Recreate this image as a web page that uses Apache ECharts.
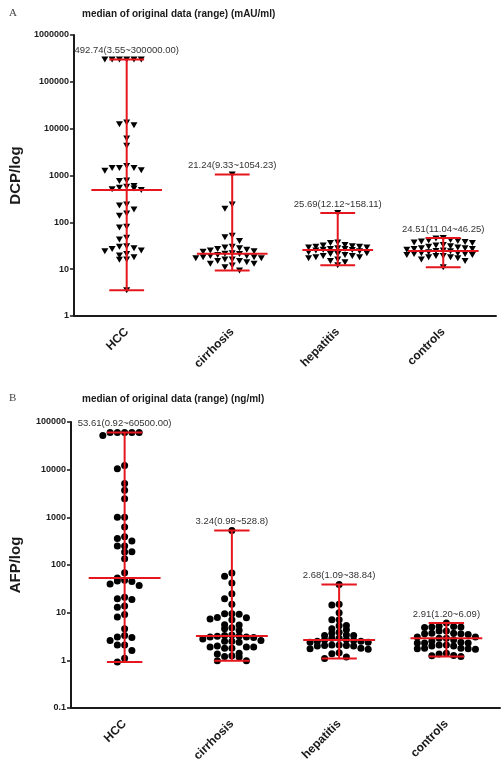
<!DOCTYPE html>
<html>
<head>
<meta charset="utf-8">
<script src="https://cdn.jsdelivr.net/npm/echarts@6/dist/echarts.min.js"></script>
<style>
  html, body { margin: 0; padding: 0; background: #fff; }
  #chart { width: 504px; height: 765px; }
</style>
</head>
<body>
<div id="chart"></div>
<script>
const groups = ['HCC', 'cirrhosis', 'hepatitis', 'controls'];

// panel A: DCP (mAU/ml)
const dcpHCC = [300000, 300000, 300000, 300000, 300000, 300000, 13500, 11800, 12500, 6200, 4300,
  1600, 1450, 1300, 1260, 1450, 1450, 780, 760, 600, 545, 510, 492.74, 525, 575,
  240, 230, 187, 155, 138, 80, 78, 47, 43, 30, 27, 25, 24, 28, 31, 21, 19.5, 16, 15.8, 18, 3.55];
const dcpCirrhosis = [1054.23, 240, 195, 52, 48, 40, 30, 29, 28, 27, 26, 25, 24, 23.5, 22,
  21.24, 21, 20, 19, 19, 18, 18, 17, 17, 16, 16, 15, 15, 14, 13, 13, 12, 11, 9.33];
const dcpHepatitis = [158.11, 37, 36, 33, 32, 31, 30, 30, 29, 29, 28, 27, 27, 26, 25.69, 25, 24,
  23, 22, 21, 21, 20, 19, 19, 18, 18, 17, 16, 15, 14, 12.12];
const dcpControls = [46.25, 45, 42, 41, 40, 39, 38, 37, 36, 33, 32, 31, 30, 29, 28, 28, 27, 27, 26, 25,
  24.51, 24, 23, 22, 22, 21, 21, 20, 20, 19, 19, 18, 18, 17, 16, 15, 11.04];
const dcpMedian = [492.74, 21.24, 25.69, 24.51];
const dcpMin = [3.55, 9.33, 12.12, 11.04];
const dcpMax = [300000, 1054.23, 158.11, 46.25];
const dcpLabels = ['492.74(3.55~300000.00)', '21.24(9.33~1054.23)', '25.69(12.12~158.11)', '24.51(11.04~46.25)'];

// panel B: AFP (ng/ml)
const afpHCC = [60500, 60500, 60500, 60500, 60500, 52000, 12300, 10500, 5100, 3700, 2450, 1000, 1000,
  630, 390, 360, 320, 250, 250, 190, 187, 135, 69, 53.61, 46, 45, 48, 40, 37, 21, 19.7, 19,
  13.8, 13, 9.2, 8.1, 4.6, 3.3, 3.1, 3.0, 2.6, 2.1, 2.1, 1.6, 1.1, 0.92];
const afpCirrhosis = [528.8, 68, 58, 42, 25, 19.6, 15, 9.5, 9.5, 9.3, 7.9, 7.1, 7.8, 7.4, 5.6, 5.5,
  4.8, 4.3, 4.6, 3.4, 3.24, 3.1, 2.8, 3.0, 3.2, 3.3, 3.1, 2.6, 2.4, 2.5, 2.5, 1.9, 1.9, 1.8, 2.0,
  1.9, 1.8, 1.4, 1.35, 1.2, 1.25, 1.17, 0.98, 0.98];
const afpHepatitis = [38.84, 15, 14.5, 10, 7.1, 7.1, 5.4, 5.3, 4.6, 4.4, 3.9, 3.7, 3.3, 3.3, 3.4,
  2.9, 2.9, 2.68, 2.7, 2.6, 2.5, 2.5, 2.4, 2.4, 2.1, 2.05, 2.0, 2.1, 2.0, 2.05, 1.8, 1.75, 1.7,
  1.45, 1.38, 1.17, 1.09];
const afpControls = [6.09, 5.0, 4.9, 5.1, 5.0, 5.2, 4.1, 4.1, 3.7, 3.6, 3.6, 3.5, 3.7, 3.1, 3.1,
  2.91, 2.9, 2.7, 2.5, 2.4, 2.3, 2.3, 2.3, 2.1, 2.1, 2.0, 2.0, 1.8, 1.75, 1.75, 1.7, 1.8, 1.4,
  1.35, 1.27, 1.25, 1.2];
const afpMedian = [53.61, 3.24, 2.68, 2.91];
const afpMin = [0.92, 0.98, 1.09, 1.20];
const afpMax = [60500, 528.8, 38.84, 6.09];
const afpLabels = ['53.61(0.92~60500.00)', '3.24(0.98~528.8)', '2.68(1.09~38.84)', '2.91(1.20~6.09)'];

const RED = '#e5161d';
const gridA = { left: 73, top: 35, width: 423, height: 281 };
const gridB = { left: 69, top: 422, width: 431, height: 286 };

// dot plot layout: points falling in the same pixel band form a row, spread out from the centre
function swarm(lists, grid, rowH) {
  const pxDecade = grid.height / 6;
  const band = grid.width / 4;
  const step = 7.3;
  const out = [];
  lists.forEach((vals, gi) => {
    const sorted = vals.slice().sort((a, b) => b - a);
    let row = [];
    const flush = () => {
      // centre-out order: 0, -1, +1, -2, +2 ...
      row.forEach((v, k) => {
        const col = k === 0 ? 0 : (k % 2 ? -Math.ceil(k / 2) : Math.ceil(k / 2));
        out.push([gi + col * step / band, v]);
      });
      row = [];
    };
    let y0 = null;
    sorted.forEach(v => {
      const y = Math.log10(v) * pxDecade;
      if (y0 === null || y0 - y >= rowH) { if (row.length) flush(); y0 = y; }
      row.push(v);
    });
    if (row.length) flush();
  });
  return out;
}

function rangeSeries(xi, yi, med, mn, mx, labels) {
  return {
    type: 'custom',
    xAxisIndex: xi,
    yAxisIndex: yi,
    z: 5,
    silent: true,
    data: med.map((m, i) => [i, m, mn[i], mx[i]]),
    renderItem: (params, api) => {
      const i = api.value(0);
      const m = api.value(1);
      const band = api.coord([i + 0.5, m])[0] - api.coord([i - 0.5, m])[0];
      const pm = api.coord([i, m]);
      const pl = api.coord([i, api.value(2)]);
      const ph = api.coord([i, api.value(3)]);
      const wm = band * 0.335, wc = band * 0.165;
      const style = { stroke: RED, lineWidth: 2 };
      return {
        type: 'group',
        children: [
          { type: 'line', shape: { x1: pm[0], y1: ph[1], x2: pm[0], y2: pl[1] }, style },
          { type: 'line', shape: { x1: pm[0] - wm, y1: pm[1], x2: pm[0] + wm, y2: pm[1] }, style },
          { type: 'line', shape: { x1: pm[0] - wc, y1: ph[1], x2: pm[0] + wc, y2: ph[1] }, style },
          { type: 'line', shape: { x1: pm[0] - wc, y1: pl[1], x2: pm[0] + wc, y2: pl[1] }, style },
          {
            type: 'text', x: pm[0], y: ph[1] - 4,
            style: { text: labels[i], fill: '#333', font: '9.5px "Liberation Sans", Arial, sans-serif', align: 'center', verticalAlign: 'bottom' }
          }
        ]
      };
    }
  };
}

const fmt = v => String(Number(v.toPrecision(6)));

function catAxis(gi) {
  return {
    type: 'category', gridIndex: gi, data: groups, boundaryGap: true,
    axisLine: { onZero: false, lineStyle: { color: '#1a1a1a', width: 2 } },
    axisTick: { alignWithLabel: true, length: 5, lineStyle: { color: '#1a1a1a', width: 1.5 } },
    axisLabel: { interval: 0, rotate: 45, margin: 14, color: '#1a1a1a', fontWeight: 'bold', fontSize: 12, fontFamily: '"Liberation Sans", Arial, sans-serif' },
    splitLine: { show: false }
  };
}
function hiddenX(gi) {
  return { type: 'value', gridIndex: gi, min: -0.5, max: 3.5, show: false };
}
function logAxis(gi, min, max, name) {
  return {
    type: 'log', logBase: 10, gridIndex: gi, min, max, splitNumber: 6,
    name, nameLocation: 'middle', nameGap: 48,
    nameTextStyle: { fontWeight: 'bold', fontSize: 15, color: '#1a1a1a', fontFamily: '"Liberation Sans", Arial, sans-serif' },
    axisLine: { show: true, onZero: false, lineStyle: { color: '#1a1a1a', width: 2 } },
    axisTick: { show: true, length: 4, lineStyle: { color: '#1a1a1a', width: 1.5 } },
    axisLabel: { formatter: fmt, color: '#1a1a1a', fontWeight: 'bold', fontSize: 9, margin: 5, fontFamily: '"Liberation Sans", Arial, sans-serif' },
    splitLine: { show: false },
    minorTick: { show: false }
  };
}

const chart = echarts.init(document.getElementById('chart'), null, { renderer: 'canvas' });
chart.setOption({
  animation: false,
  backgroundColor: '#fff',
  title: [
    { text: 'A', left: 4, top: 3, textStyle: { fontFamily: '"Liberation Serif", serif', fontWeight: 'normal', fontSize: 11, color: '#444' } },
    { text: 'median of original data (range) (mAU/ml)', left: 77, top: 4, textStyle: { fontWeight: 'bold', fontSize: 10, color: '#1a1a1a', fontFamily: '"Liberation Sans", Arial, sans-serif' } },
    { text: 'B', left: 4, top: 388, textStyle: { fontFamily: '"Liberation Serif", serif', fontWeight: 'normal', fontSize: 11, color: '#444' } },
    { text: 'median of original data (range) (ng/ml)', left: 77, top: 389, textStyle: { fontWeight: 'bold', fontSize: 10, color: '#1a1a1a', fontFamily: '"Liberation Sans", Arial, sans-serif' } }
  ],
  grid: [gridA, gridB],
  xAxis: [catAxis(0), hiddenX(0), catAxis(1), hiddenX(1)],
  yAxis: [logAxis(0, 1, 1000000, 'DCP/log'), logAxis(1, 0.1, 100000, 'AFP/log')],
  series: [
    {
      type: 'scatter', xAxisIndex: 1, yAxisIndex: 0, z: 3,
      symbol: 'triangle', symbolRotate: 180, symbolSize: [7, 6],
      itemStyle: { color: '#000', opacity: 1 },
      data: swarm([dcpHCC, dcpCirrhosis, dcpHepatitis, dcpControls], gridA, 5.5)
    },
    rangeSeries(1, 0, dcpMedian, dcpMin, dcpMax, dcpLabels),
    {
      type: 'scatter', xAxisIndex: 3, yAxisIndex: 1, z: 3,
      symbol: 'circle', symbolSize: 7,
      itemStyle: { color: '#000', opacity: 1 },
      data: swarm([afpHCC, afpCirrhosis, afpHepatitis, afpControls], gridB, 6)
    },
    rangeSeries(3, 1, afpMedian, afpMin, afpMax, afpLabels)
  ]
});
</script>
</body>
</html>
